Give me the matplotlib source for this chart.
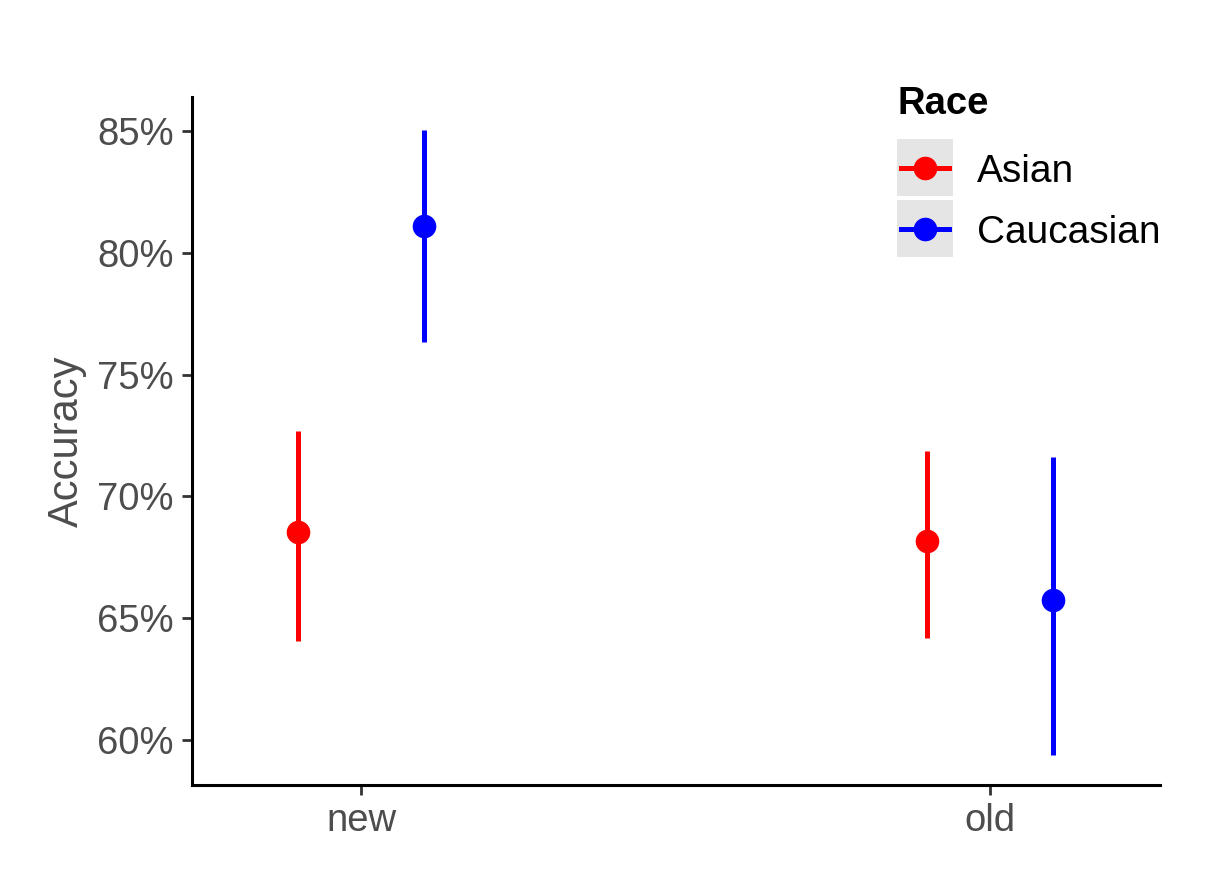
import numpy as np
import matplotlib.pyplot as plt
from matplotlib.patches import Rectangle
from matplotlib.lines import Line2D
from matplotlib.ticker import FuncFormatter

plt.rcParams['font.family'] = ['Liberation Sans', 'DejaVu Sans']

# data (accuracy in %)
conditions = ['new', 'old']
races = ['Asian', 'Caucasian']
colors = ['#FF0000', '#0000FF']
mean_asian = [68.55, 68.15]
low_asian = [64.05, 64.2]
high_asian = [72.7, 71.85]
mean_cauc = [81.1, 65.75]
low_cauc = [76.35, 59.4]
high_cauc = [85.05, 71.6]

fig = plt.figure(figsize=(12.25, 8.76), dpi=100)
ax = fig.add_axes([192/1225, 1-785/876, (1160-192)/1225, (785-97)/876])

x = np.arange(1, len(conditions)+1)
dodge = 0.1
series = [(mean_asian, low_asian, high_asian), (mean_cauc, low_cauc, high_cauc)]
for i, (m, lo, hi) in enumerate(series):
    xs = x + (i - 0.5) * 2 * dodge
    ax.vlines(xs, lo, hi, color=colors[i], linewidth=3.6, zorder=2)
    ax.plot(xs, m, 'o', color=colors[i], markersize=16, zorder=3)

ax.set_xlim(0.731, 2.27)
ax.set_ylim(58.15, 86.4)
ax.set_xticks(x)
ax.set_xticklabels(conditions)
ax.set_yticks([60, 65, 70, 75, 80, 85])
ax.yaxis.set_major_formatter(FuncFormatter(lambda v, p: '%d%%' % v))
ax.tick_params(labelsize=27.5, labelcolor='#4D4D4D', color='#333333', width=2, length=7, pad=6)
for s in ['top', 'right']:
    ax.spines[s].set_visible(False)
for s in ['left', 'bottom']:
    ax.spines[s].set_linewidth(2.2)
fig.text(67/1225, 1-441/876, 'Accuracy', rotation=90, fontsize=30, color='#4D4D4D',
         ha='center', va='center')

# legend drawn by hand (ggplot style keys)
fig.text(897/1225, 1-104/876, 'Race', fontsize=27.5, fontweight='bold', ha='left', va='center')
for i, r in enumerate(races):
    top = 139 + i*61
    fig.patches.append(Rectangle((897/1225, 1-(top+57)/876), 56/1225, 57/876,
                                 transform=fig.transFigure, facecolor='#E5E5E5', edgecolor='none'))
    cy = 1-(top+29)/876
    fig.lines.append(Line2D([901/1225, 949/1225], [cy, cy], transform=fig.transFigure,
                            color=colors[i], linewidth=3.6))
    fig.lines.append(Line2D([925/1225], [cy], transform=fig.transFigure, marker='o',
                            color=colors[i], markersize=16))
    fig.text(977/1225, cy - 4/876, r, fontsize=28, ha='left', va='center')

fig.savefig('out.png', dpi=100)
